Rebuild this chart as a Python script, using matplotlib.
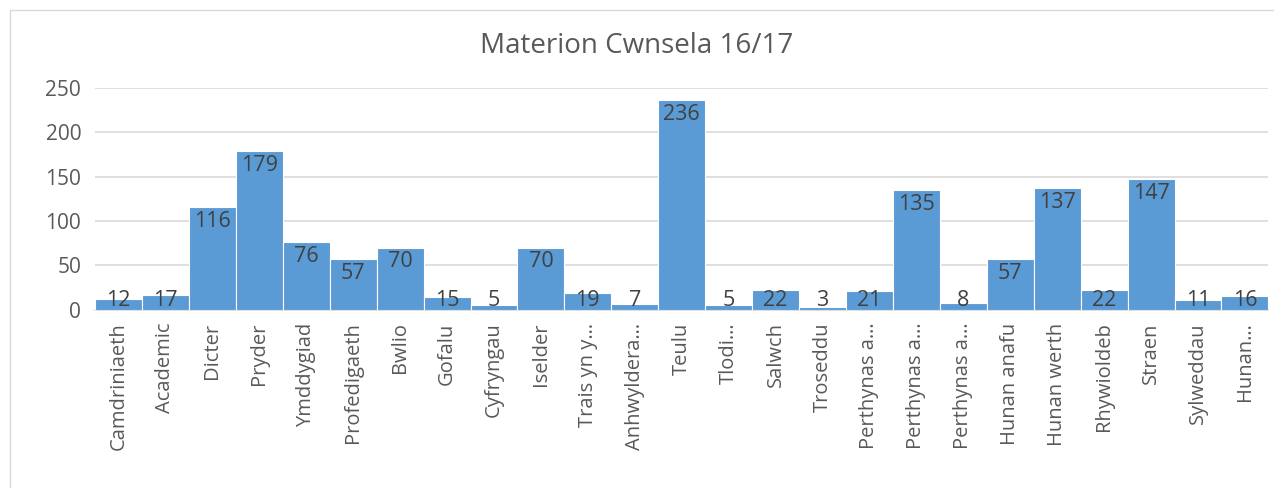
import matplotlib
matplotlib.use("Agg")
import matplotlib.pyplot as plt

categories = [
    "Camdriniaeth", "Academic", "Dicter", "Pryder", "Ymddygiad", "Profedigaeth",
    "Bwlio", "Gofalu", "Cyfryngau", "Iselder", "Trais yn y…", "Anhwyldera…",
    "Teulu", "Tlodi…", "Salwch", "Troseddu", "Perthynas a…", "Perthynas a…",
    "Perthynas a…", "Hunan anafu", "Hunan werth", "Rhywioldeb", "Straen",
    "Sylweddau", "Hunan…",
]
counts = [12, 17, 116, 179, 76, 57, 70, 15, 5, 70, 19, 7, 236, 5, 22, 3, 21,
          135, 8, 57, 137, 22, 147, 11, 16]
y_ticks = [0, 50, 100, 150, 200, 250]

plt.rcParams["font.family"] = ["Open Sans", "DejaVu Sans"]
text_grey = "#595959"

fig = plt.figure(figsize=(12.74, 4.88), dpi=100)
ax = fig.add_axes([0.0746, 0.365, 0.921, 0.455])

x = range(len(categories))
ax.bar(x, counts, width=1.0, color="#5B9BD5", edgecolor="white", linewidth=0.8, zorder=3)

# labels sit just inside the top of each bar, clamped for short bars
for i, v in enumerate(counts):
    ax.text(i, max(v - 16, 11), str(v), ha="center", va="center",
            fontsize=15.5, color="#404040", zorder=4)

ax.set_xlim(-0.5, len(categories) - 0.5)
ax.set_ylim(0, 250)
ax.set_yticks(y_ticks)
ax.set_xticks(list(x))
ax.set_xticklabels(categories, rotation=90, fontsize=14.5, color=text_grey)
ax.tick_params(axis="y", labelsize=15, colors=text_grey, length=0, pad=10)
ax.tick_params(axis="x", length=0, pad=9)
ax.grid(axis="y", color="#D9D9D9", linewidth=1.2, zorder=0)
for side in ["top", "right", "left"]:
    ax.spines[side].set_visible(False)
ax.spines["bottom"].set_color("#D9D9D9")
ax.spines["bottom"].set_linewidth(1.2)

fig.text(0.5, 0.905, "Materion Cwnsela 16/17", ha="center", va="center",
         fontsize=20, color=text_grey)

# thin outer chart border
fig.patches.append(plt.Rectangle((0.008, -0.1), 1.1, 1.08, transform=fig.transFigure,
                                 fill=False, edgecolor="#D9D9D9", linewidth=1))

fig.savefig("out.png", dpi=100)
